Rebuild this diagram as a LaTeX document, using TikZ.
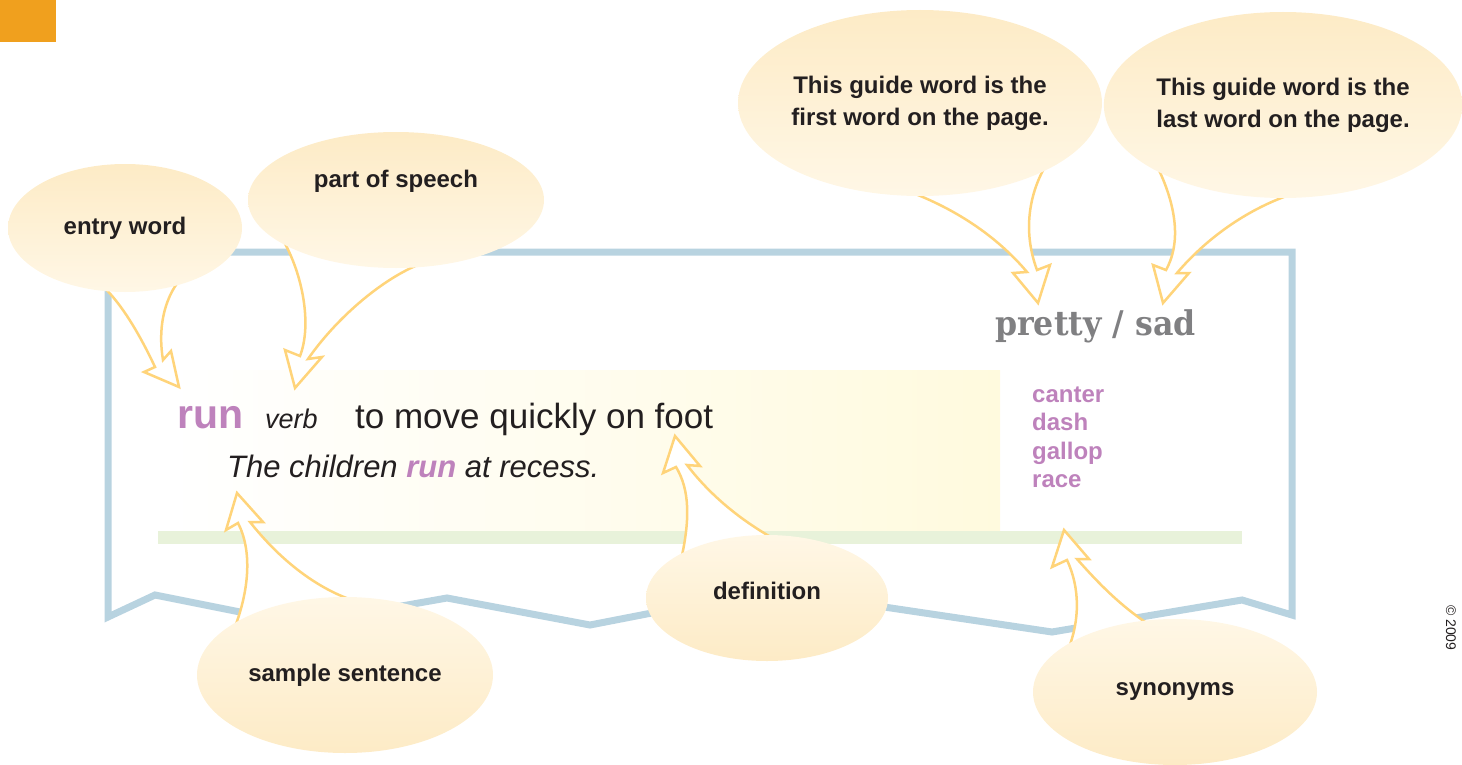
\documentclass[tikz,border=0pt]{standalone}
\usepackage{fontspec}
\setmainfont{Liberation Sans}
\newfontfamily\slabfont{DejaVu Serif}
\usetikzlibrary{shapes.geometric}

\definecolor{tabOrange}{RGB}{240,160,30}
\definecolor{frameBlue}{RGB}{184,211,224}
\definecolor{bandGreen}{RGB}{232,242,218}
\definecolor{paleYellow}{RGB}{255,250,222}
\definecolor{entryPurple}{RGB}{190,130,188}
\definecolor{guideGray}{RGB}{128,128,130}
\definecolor{inkBlack}{RGB}{35,31,32}
\definecolor{arrowYellow}{RGB}{255,212,122}
\definecolor{bubbleLight}{RGB}{255,247,230}
\definecolor{bubbleDark}{RGB}{253,235,198}

\begin{document}
\begin{tikzpicture}[x=1pt, y=-1pt,
bubble/.style = { ellipse, inner sep = 0pt, align = center, text = inkBlack,
  font = \fontsize{24}{32}\selectfont\bfseries },
bubble_up/.style = { bubble, top color = bubbleLight, bottom color = bubbleDark },
bubble_dn/.style = { bubble, top color = bubbleDark, bottom color = bubbleLight },
fat_arrow/.style = { draw = arrowYellow, line width = 2.5pt, fill = white, line join = miter },
syn_word/.style = { anchor = base west, inner sep = 0pt, text = entryPurple,
  font = \fontsize{24}{28}\selectfont\bfseries }]
\useasboundingbox (0,0) rectangle (1462,765);

% page tab and dictionary strip
\fill[tabOrange] (0,0) rectangle (56,42);
\shade[left color = white, right color = paleYellow] (170,370) rectangle (1000,531);
\fill[bandGreen] (158,531) rectangle (1242,544);
\draw[frameBlue, line width = 7pt, line join = miter]
  (108,617) -- (108,252) -- (1292,252) -- (1292,615) -- (1242,600) -- (1052,632)
  -- (770,590) -- (590,625) -- (447,598) -- (300,624) -- (155,595) -- cycle;

% hollow arrows
\draw[fat_arrow] (98,282) .. controls (120,300) and (140,335) .. (155,367) -- (144,372)
  -- (179,387) -- (171,351) -- (163,360) .. controls (158,330) and (163,300) .. (181,278);
\draw[fat_arrow] (283,240) .. controls (303,275) and (312,325) .. (300,356) -- (285,350)
  -- (295,388) -- (322,357) -- (308,359) .. controls (335,320) and (380,280) .. (420,264);
\draw[fat_arrow] (905,190) .. controls (960,210) and (1000,240) .. (1027,272) -- (1013,273)
  -- (1038,303) -- (1050,265) -- (1037,270) .. controls (1022,230) and (1030,192) .. (1046,165);
\draw[fat_arrow] (1158,168) .. controls (1178,210) and (1180,245) .. (1166,270) -- (1153,265)
  -- (1163,303) -- (1189,273) -- (1177,273) .. controls (1205,240) and (1245,210) .. (1292,194);
\draw[fat_arrow] (233,632) .. controls (250,590) and (252,550) .. (238,523) -- (226,530)
  -- (237,493) -- (263,522) -- (250,522) .. controls (280,560) and (318,590) .. (358,602);
\draw[fat_arrow] (681,560) .. controls (690,520) and (690,490) .. (676,467) -- (663,473)
  -- (675,436) -- (700,466) -- (687,465) .. controls (710,495) and (740,520) .. (776,540);
\draw[fat_arrow] (1068,650) .. controls (1080,620) and (1080,588) .. (1067,560) -- (1052,567)
  -- (1064,530) -- (1089,559) -- (1077,559) .. controls (1100,585) and (1120,605) .. (1148,624);

% callout bubbles
\node[bubble_dn, minimum width = 234, minimum height = 128] (entry) at (125,228) {entry word};
\node[bubble_dn, minimum width = 296, minimum height = 136, text depth = 43pt] (speech) at (396,200) {part of speech};
\node[bubble_dn, minimum width = 356, minimum height = 186] (firstw) at (920,103) {This guide word is the\\first word on the page.};
\node[bubble_dn, minimum width = 356, minimum height = 186] (lastw) at (1283,105) {This guide word is the\\last word on the page.};
\node[bubble_up, minimum width = 242, minimum height = 126, text depth = 14pt] (defn) at (767,598) {definition};
\node[bubble_up, minimum width = 296, minimum height = 156] (sample) at (345,675) {sample sentence};
\node[bubble_up, minimum width = 284, minimum height = 146] (syn) at (1175,692) {synonyms};

% the entry itself
\node[anchor = base west, inner sep = 0pt, text = entryPurple, font = \fontsize{41}{48}\selectfont\bfseries] (head) at (177,428) {run};
\node[anchor = base west, inner sep = 0pt, text = inkBlack, font = \fontsize{27}{32}\selectfont\itshape] (pos) at (265,428) {verb};
\node[anchor = base west, inner sep = 0pt, text = inkBlack, font = \fontsize{35}{40}\selectfont] (meaning) at (355,428) {to move quickly on foot};
\node[anchor = base west, inner sep = 0pt, text = inkBlack, font = \fontsize{31}{38}\selectfont\itshape] (sentence) at (227,477)
  {The children \textcolor{entryPurple}{\bfseries run} at recess.};
\node[anchor = base west, inner sep = 0pt, text = guideGray, font = \fontsize{34}{40}\slabfont\bfseries] (guide) at (995,335)
  {\scalebox{0.93}[1]{pretty / sad}};
\foreach \w [count = \i] in {canter, dash, gallop, race}
  \node[syn_word] (syn\i) at (1032,373.5+28.5*\i) {\w};

% credit line along the right edge, read downwards
\node[anchor = base west, inner sep = 0pt, rotate = -90, text = inkBlack, font = \fontsize{14}{16}\selectfont] (credit) at (1446,605) {\textcopyright{} 2009};
\end{tikzpicture}
\end{document}
